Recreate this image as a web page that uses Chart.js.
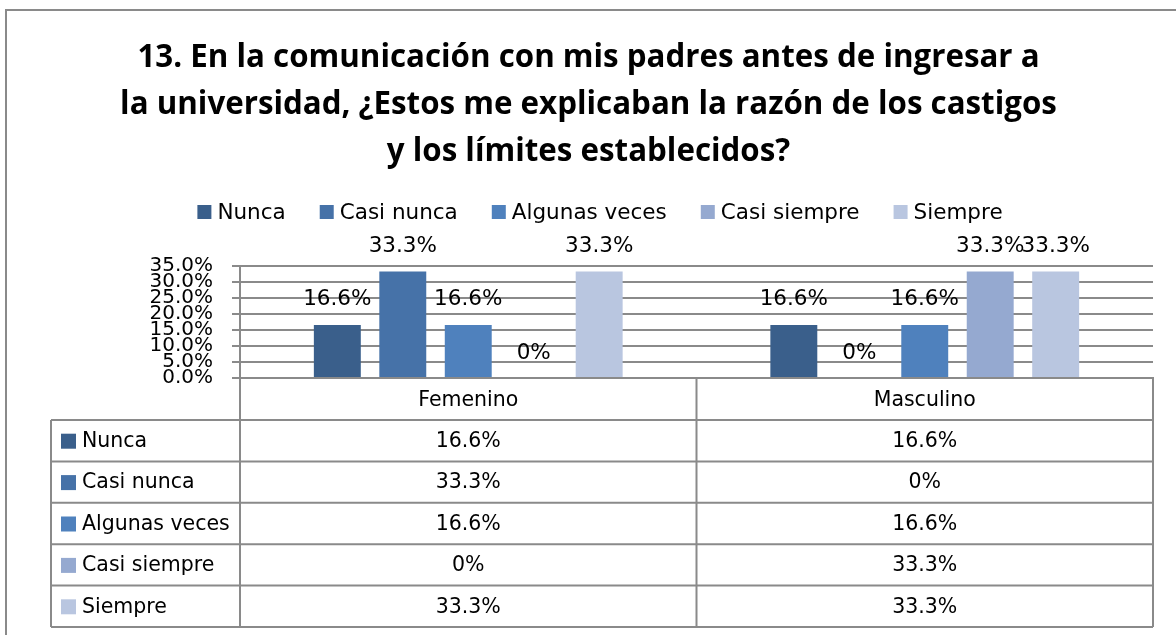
<!DOCTYPE html>
<html>
<head>
<meta charset="utf-8">
<script src="https://cdn.jsdelivr.net/npm/chart.js@4.4.0/dist/chart.umd.min.js"></script>
<style>
  html, body { margin: 0; padding: 0; background: #fff; }
  canvas { display: block; }
</style>
</head>
<body>
<canvas id="chart" width="1176" height="635"></canvas>
<script>
// chart values
const titleLines = [
  '13. En la comunicación con mis padres antes de ingresar a',
  'la universidad, ¿Estos me explicaban la razón de los castigos',
  'y los límites establecidos?'
];
const groups = ['Femenino', 'Masculino'];
const seriesNames = ['Nunca', 'Casi nunca', 'Algunas veces', 'Casi siempre', 'Siempre'];
const nunca = [16.6, 16.6];
const casiNunca = [33.3, 0];
const algunasVeces = [16.6, 16.6];
const casiSiempre = [0, 33.3];
const siempre = [33.3, 33.3];
const yTicks = [0, 5, 10, 15, 20, 25, 30, 35];
const seriesColors = ['#3a5f8b', '#4672a8', '#4f81bd', '#95a9d0', '#b9c6e0'];

const seriesValues = [nunca, casiNunca, algunasVeces, casiSiempre, siempre];
const FONT = '"DejaVu Sans", sans-serif';
const LINE = '#8a8a8a';

const fmt = v => v + '%';

// white background + outer frame
const framePlugin = {
  id: 'frame',
  beforeDraw(chart) {
    const ctx = chart.ctx;
    ctx.save();
    ctx.fillStyle = '#fff';
    ctx.fillRect(0, 0, chart.width, chart.height);
    ctx.strokeStyle = LINE;
    ctx.lineWidth = 2;
    ctx.strokeRect(6, 10, chart.width + 20, chart.height + 20);
    ctx.restore();
  }
};

// legend row under the title
const legendPlugin = {
  id: 'topLegend',
  afterDraw(chart) {
    const ctx = chart.ctx;
    ctx.save();
    ctx.font = '21.5px ' + FONT;
    ctx.textBaseline = 'middle';
    ctx.textAlign = 'left';
    const box = 14, gap = 6, spacing = 34;
    const items = chart.data.datasets.map(ds => ({ text: ds.label, color: ds.backgroundColor, w: ctx.measureText(ds.label).width }));
    const total = items.reduce((s, it) => s + box + gap + it.w, 0) + spacing * (items.length - 1);
    let x = 600 - total / 2;
    const y = 212;
    items.forEach(it => {
      ctx.fillStyle = it.color;
      ctx.fillRect(x, y - box / 2, box, box);
      ctx.fillStyle = '#000';
      ctx.fillText(it.text, x + box + gap, y + 1);
      x += box + gap + it.w + spacing;
    });
    ctx.restore();
  }
};

// value labels above bars
const valueLabels = {
  id: 'valueLabels',
  afterDatasetsDraw(chart) {
    const ctx = chart.ctx;
    ctx.save();
    ctx.font = '21.5px ' + FONT;
    ctx.fillStyle = '#000';
    ctx.textAlign = 'center';
    ctx.textBaseline = 'middle';
    chart.data.datasets.forEach((ds, i) => {
      chart.getDatasetMeta(i).data.forEach((bar, j) => {
        ctx.fillText(fmt(ds.data[j]), bar.x, bar.y - 25);
      });
    });
    ctx.restore();
  }
};

// data table under the plot
const dataTable = {
  id: 'dataTable',
  afterDraw(chart) {
    const ctx = chart.ctx;
    const xs = chart.scales.x;
    const area = chart.chartArea;
    const top = area.bottom;
    const headH = 42, rowH = 41.4, tableLeft = 51;
    const headBottom = top + headH;
    const bottom = headBottom + rowH * seriesNames.length;
    const mid = (xs.getPixelForValue(0) + xs.getPixelForValue(1)) / 2;

    ctx.save();
    ctx.strokeStyle = LINE;
    ctx.lineWidth = 2;
    ctx.beginPath();
    [area.left, mid, area.right].forEach(x => { ctx.moveTo(x, top); ctx.lineTo(x, bottom); });
    ctx.moveTo(tableLeft, headBottom); ctx.lineTo(tableLeft, bottom);
    ctx.moveTo(area.left, top); ctx.lineTo(area.right, top);
    for (let r = 0; r <= seriesNames.length; r++) {
      const y = headBottom + rowH * r;
      ctx.moveTo(tableLeft, y); ctx.lineTo(area.right, y);
    }
    ctx.stroke();

    ctx.font = '20.5px ' + FONT;
    ctx.fillStyle = '#000';
    ctx.textBaseline = 'middle';
    ctx.textAlign = 'center';
    groups.forEach((g, i) => ctx.fillText(g, xs.getPixelForValue(i), top + headH / 2 + 2));

    chart.data.datasets.forEach((ds, r) => {
      const y = headBottom + rowH * (r + 0.5);
      ctx.fillStyle = ds.backgroundColor;
      ctx.fillRect(61, y - 7, 15, 15);
      ctx.fillStyle = '#000';
      ctx.textAlign = 'left';
      ctx.fillText(ds.label, 82, y + 1);
      ctx.textAlign = 'center';
      ds.data.forEach((v, j) => ctx.fillText(fmt(v), xs.getPixelForValue(j), y + 1));
    });
    ctx.restore();
  }
};

new Chart(document.getElementById('chart'), {
  type: 'bar',
  data: {
    labels: groups,
    datasets: seriesNames.map((name, i) => ({
      label: name,
      data: seriesValues[i],
      backgroundColor: seriesColors[i],
      categoryPercentage: 0.717,
      barPercentage: 0.717
    }))
  },
  options: {
    responsive: false,
    animation: false,
    layout: { padding: { top: 0, left: 24, right: 23, bottom: 257 } },
    plugins: {
      legend: { display: false },
      tooltip: { enabled: false },
      title: {
        display: true,
        text: titleLines,
        color: '#000',
        font: { family: '"Open Sans", sans-serif', size: 31.3, weight: 'bold', lineHeight: '47px' },
        padding: { top: 34.5, bottom: 90.5 }
      }
    },
    scales: {
      x: {
        grid: { display: false },
        ticks: { display: false },
        border: { display: true, color: LINE, width: 2 },
        afterFit(scale) { scale.height = 0; }
      },
      y: {
        min: 0,
        max: 35,
        afterBuildTicks(scale) { scale.ticks = yTicks.map(v => ({ value: v })); },
        afterFit(scale) { scale.width = 216; },
        ticks: {
          autoSkip: false,
          padding: 19,
          color: '#000',
          font: { family: FONT, size: 20 },
          callback: v => v.toFixed(1) + '%'
        },
        grid: { color: LINE, lineWidth: 2, tickLength: 8, drawTicks: true },
        border: { display: true, color: LINE, width: 2 }
      }
    }
  },
  plugins: [framePlugin, legendPlugin, valueLabels, dataTable]
});
</script>
</body>
</html>
